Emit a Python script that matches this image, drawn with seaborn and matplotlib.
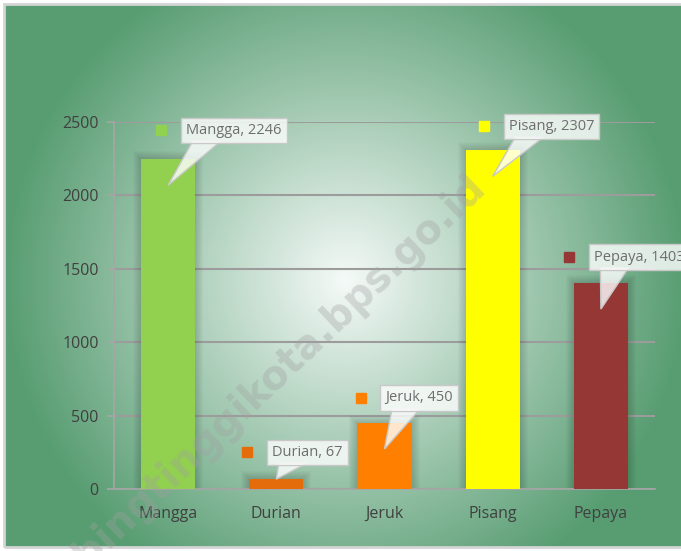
import numpy as np
import matplotlib
matplotlib.use('Agg')
import matplotlib.pyplot as plt
import matplotlib.transforms as mtransforms
from matplotlib.patches import Rectangle, Polygon
import seaborn as sns

# data
buah = ['Mangga', 'Durian', 'Jeruk', 'Pisang', 'Pepaya']
produksi = [2246, 67, 450, 2307, 1403]
warna = ['#92d050', '#e46c0a', '#ff8000', '#ffff00', '#953735']
y_ticks = [0, 500, 1000, 1500, 2000, 2500]

sns.set_theme(style='white')
plt.rcParams['font.family'] = ['Open Sans', 'DejaVu Sans']

W, H = 681, 551
fig = plt.figure(figsize=(W / 100, H / 100), dpi=100, facecolor='white')

# radial green background
bg = fig.add_axes([4 / W, 4 / H, 1 - 4 / W, 1 - 8 / H], zorder=0)
yy, xx = np.mgrid[0:H, 0:W]
r = np.sqrt((xx - 345) ** 2 + (yy - 280) ** 2)
t = np.clip(1 - r / 340, 0, 1)[..., None]
green = np.array([88, 157, 114]) / 255
light = np.array([245, 250, 248]) / 255
img = green + (light - green) * t
bg.imshow(img, extent=[0, W, H, 0], aspect='auto')
bg.set_xlim(4, W)
bg.set_ylim(H - 4, 4)
bg.axis('off')
fig.patches.append(Rectangle((4 / W, 4 / H), 1, 1 - 8 / H, transform=fig.transFigure,
                             fill=False, ec='#d4d4d4', lw=2, zorder=1))

ax = fig.add_axes([114 / W, 1 - 489 / H, (655 - 114) / W, (489 - 122) / H], zorder=2)
ax.patch.set_alpha(0)

sns.barplot(x=buah, y=produksi, hue=buah, palette=warna, width=0.5, saturation=1,
            legend=False, ax=ax, zorder=3, edgecolor='none', linewidth=0)

ax.set_ylim(0, 2500)
ax.set_xlim(-0.5, 4.5)
px = 2500 / 367.0
pxx = 5 / 541.0

# soft shadow round each bar
for p in list(ax.patches):
    x0, w, h = p.get_x(), p.get_width(), p.get_height()
    for k in range(1, 9):
        ax.add_patch(Rectangle((x0 - k * pxx, 0), w + 2 * k * pxx, h + k * px,
                               fc='black', ec='none', alpha=0.02, zorder=2.5))

ax.set_yticks(y_ticks)
ax.yaxis.grid(True, color='#9c9c9c', lw=1.5)
ax.set_axisbelow(True)
for s in ['top', 'right']:
    ax.spines[s].set_visible(False)
for s in ['left', 'bottom']:
    ax.spines[s].set_color('#a6a6a6')
    ax.spines[s].set_linewidth(1.2)
ax.set_xticks(np.arange(-0.5, 5, 1), minor=True)
ax.tick_params(axis='x', which='major', length=0, pad=12, labelsize=11.5, labelcolor='#404040')
ax.tick_params(axis='x', which='minor', length=4, width=1.2, color='#a6a6a6', direction='out')
ax.tick_params(axis='y', length=5, width=1.2, color='#a6a6a6', direction='out',
               labelsize=11.5, labelcolor='#404040', pad=6)
ax.tick_params(axis='x', which='major', bottom=True)
ax.tick_params(axis='y', left=True)

# callouts: box offset from the pointer tip, in pixels
offsets = [(18, 55), (-4, 27), (1, 51), (16, 50), (-7, 52)]
pad_px = 5.5
half_h = 12
box_fc = (1, 1, 1, 0.8)
for i, (nama, val) in enumerate(zip(buah, produksi)):
    tip = val - 26 * px if val > 300 else val
    dx, dy = offsets[i]
    ax.annotate(f'{nama}, {val}', xy=(i, tip), xytext=(dx, dy), textcoords='offset pixels',
                ha='left', va='center', fontsize=10.5, color='#6e6e6e', zorder=7,
                bbox=dict(boxstyle='square,pad=0.35', fc=box_fc, ec='#c8c8c8', lw=1))
    anchor = mtransforms.ScaledTranslation(i, tip, ax.transData)
    left = dx - pad_px
    wedge = Polygon([(0, 0), (left + 12, dy - half_h + 1), (left + 40, dy - half_h + 1)],
                    closed=True, fc=box_fc, ec='#c8c8c8', lw=1, transform=anchor,
                    zorder=6, clip_on=False)
    ax.add_patch(wedge)
    tr = mtransforms.offset_copy(ax.transData, fig=fig, x=dx - 25, y=dy, units='dots')
    ax.plot([i], [tip], marker='s', ms=7, color=warna[i], transform=tr, zorder=6,
            clip_on=False)

fig.text(264 / W, 1 - 388 / H, 'tebingtinggikota.bps.go.id', rotation=43.5,
         ha='center', va='center', fontsize=28.5, weight='bold', color='#a0a0a0',
         alpha=0.35, zorder=10, family='DejaVu Sans')

fig.savefig('out.png', dpi=100, facecolor='white')
